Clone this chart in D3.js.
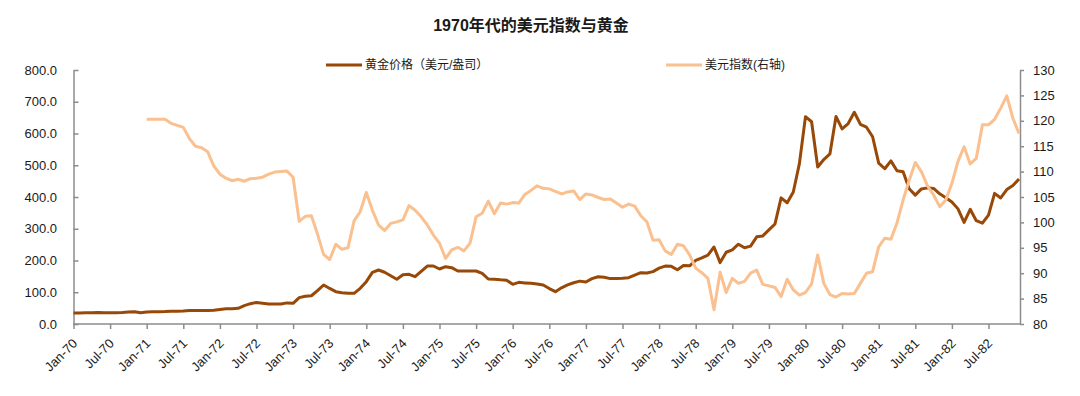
<!DOCTYPE html>
<html><head><meta charset="utf-8">
<script src="https://cdn.jsdelivr.net/npm/d3@7"></script>
<style>
body{margin:0;background:#fff}
svg{display:block}
text{font-family:"Liberation Sans",Arial,"Noto Sans CJK SC",sans-serif;fill:#1a1a1a}
</style>
</head><body>
<svg id="chart" width="1080" height="396"></svg>
<script>
// ---- data ----
const years = ["70","71","72","73","74","75","76","77","78","79","80","81","82"];
const monthNames = ["Jan","Feb","Mar","Apr","May","Jun","Jul","Aug","Sep","Oct","Nov","Dec"];
const categories = years.flatMap(y => monthNames.map(m => m + "-" + y));

const xTickLabels = ["Jan-70","Jul-70","Jan-71","Jul-71","Jan-72","Jul-72","Jan-73","Jul-73",
  "Jan-74","Jul-74","Jan-75","Jul-75","Jan-76","Jul-76","Jan-77","Jul-77","Jan-78","Jul-78",
  "Jan-79","Jul-79","Jan-80","Jul-80","Jan-81","Jul-81","Jan-82","Jul-82"];
const leftTicks = [0,100,200,300,400,500,600,700,800];
const rightTicks = [80,85,90,95,100,105,110,115,120,125,130];

const seriesNames = ["黄金价格（美元/盎司）","美元指数(右轴)"];

// gold price, USD/oz, Jan-70 .. Dec-82
const goldPrice = [
  34.9,35.0,35.1,35.6,35.9,35.4,35.3,35.4,36.2,37.5,38.8,35.2,
  37.9,38.9,38.9,39.0,40.5,40.1,41.0,42.6,42.6,42.5,42.9,43.6,
  46.0,47.9,48.4,49.5,58.0,64.0,68.0,65.5,62.8,62.8,62.8,66.5,
  65.1,83.0,87.5,89.0,105.0,122.8,112.0,101.8,98.7,96.6,96.6,112.3,
  133.3,162.7,170.0,163.0,152.0,140.7,155.0,156.4,149.0,166.0,182.6,182.6,
  173.2,180.5,177.4,166.9,166.9,166.9,166.9,159.6,141.7,140.7,139.0,138.0,
  125.0,131.2,129.5,128.0,125.8,122.8,111.6,101.8,114.0,123.0,130.0,135.0,
  132.3,142.8,148.9,147.4,143.0,143.0,144.1,145.7,154.1,161.5,160.5,165.0,
  175.9,182.3,181.6,170.9,183.9,183.1,200.3,208.1,217.1,242.6,193.4,226.0,
  233.7,251.3,240.1,245.3,274.6,277.5,296.5,315.1,397.3,382.0,415.7,505.0,
  653.0,637.0,494.5,518.0,535.5,653.5,614.3,631.3,666.8,629.0,619.8,589.8,
  506.5,489.0,513.8,482.8,479.3,426.0,406.0,425.5,428.8,427.0,410.0,397.5,
  384.3,362.6,320.0,361.3,325.3,317.5,342.9,411.5,397.0,423.3,436.0,456.9
];

// dollar index, Jan-71 .. Dec-82
const dollarStart = "Jan-71";
const dollarIndex = [
  120.3,120.3,120.3,120.3,119.5,119.1,118.7,116.5,115.0,114.7,113.9,111.1,
  109.5,108.7,108.2,108.5,108.1,108.6,108.7,108.9,109.5,109.9,110.0,110.1,
  108.9,100.2,101.2,101.3,97.7,93.7,92.7,95.7,94.7,95.0,100.3,102.1,
  105.9,102.4,99.5,98.4,99.8,100.1,100.5,103.3,102.4,101.1,99.5,97.5,
  95.9,92.9,94.6,95.1,94.4,95.9,101.1,101.8,104.2,101.7,103.8,103.6,
  103.9,103.8,105.5,106.3,107.2,106.7,106.6,106.1,105.6,106.0,106.2,104.5,
  105.6,105.4,104.9,104.5,104.6,103.8,103.0,103.6,103.2,101.3,100.1,96.5,
  96.6,94.4,93.7,95.7,95.4,93.6,91.0,90.1,89.0,82.8,90.2,86.2,
  89.0,88.0,88.4,90.0,90.6,87.8,87.5,87.2,85.4,88.8,86.7,85.7,
  86.2,87.9,93.6,88.0,85.8,85.3,86.0,85.9,86.0,88.0,90.0,90.3,
  95.2,96.9,96.7,99.9,104.4,108.3,111.8,110.0,107.2,105.4,103.1,104.4,
  107.7,112.0,114.9,111.5,112.6,119.2,119.2,120.3,122.5,124.9,120.5,117.5
];

// ---- layout ----
const svg = d3.select("#chart");
const plotLeft = 73.5, plotRight = 1020, plotTop = 70, plotBottom = 324;
const goldColor = "#984807", dollarColor = "#FAC090", axisColor = "#8c8c8c";

const x = d3.scalePoint().domain(categories).range([plotLeft, plotRight - 1]);
const yL = d3.scaleLinear().domain([leftTicks[0], leftTicks[leftTicks.length-1]]).range([plotBottom, plotTop]);
const yR = d3.scaleLinear().domain([rightTicks[0], rightTicks[rightTicks.length-1]]).range([plotBottom, plotTop]);

// title
svg.append("text").attr("x", 531).attr("y", 31).attr("text-anchor", "middle")
  .style("font-size", "16px").style("font-weight", "bold").text("1970年代的美元指数与黄金");

// legend
const legendItems = [
  {name: seriesNames[0], color: goldColor, x: 326},
  {name: seriesNames[1], color: dollarColor, x: 666}
];
legendItems.forEach(l => {
  svg.append("line").attr("x1", l.x).attr("x2", l.x + 36).attr("y1", 65).attr("y2", 65)
    .attr("stroke", l.color).attr("stroke-width", 3);
  svg.append("text").attr("x", l.x + 39).attr("y", 65).attr("dy", "0.35em")
    .style("font-size", "12px").text(l.name);
});

// axes
function styleAxis(g) {
  g.select(".domain").attr("stroke", axisColor).attr("stroke-width", 1.5);
  g.selectAll(".tick line").attr("stroke", axisColor).attr("stroke-width", 1.5);
  g.selectAll(".tick text").style("font-size", "13px").attr("fill", "#1a1a1a");
}

const gL = svg.append("g").attr("transform", `translate(${plotLeft},0)`)
  .call(d3.axisLeft(yL).tickValues(leftTicks).tickFormat(d3.format(".1f"))
    .tickSize(-5).tickSizeOuter(0).tickPadding(16.5));
styleAxis(gL);

const gR = svg.append("g").attr("transform", `translate(${plotRight},0)`)
  .call(d3.axisRight(yR).tickValues(rightTicks).tickFormat(d3.format("d"))
    .tickSize(4).tickSizeOuter(0).tickPadding(9));
styleAxis(gR);

const gX = svg.append("g").attr("transform", `translate(0,${plotBottom})`)
  .call(d3.axisBottom(x).tickValues(xTickLabels).tickSize(5).tickSizeOuter(0));
gX.select(".domain").attr("d", `M${plotLeft},0H${plotRight}`);
styleAxis(gX);
gX.selectAll(".tick text")
  .attr("y", 0).attr("dy", "0.35em").attr("x", 0)
  .attr("text-anchor", "end")
  .attr("transform", "translate(1,17) rotate(-45)");

// lines
const goldData = categories.map((c, i) => ({c, v: goldPrice[i]}));
const dStart = categories.indexOf(dollarStart);
const dollarData = dollarIndex.map((v, i) => ({c: categories[dStart + i], v}));

svg.append("path").datum(goldData)
  .attr("fill", "none").attr("stroke", goldColor).attr("stroke-width", 3)
  .attr("stroke-linejoin", "round")
  .attr("d", d3.line().x(d => x(d.c)).y(d => yL(d.v)));

svg.append("path").datum(dollarData)
  .attr("fill", "none").attr("stroke", dollarColor).attr("stroke-width", 3)
  .attr("stroke-linejoin", "round")
  .attr("d", d3.line().x(d => x(d.c)).y(d => yR(d.v)));
</script>
</body></html>
